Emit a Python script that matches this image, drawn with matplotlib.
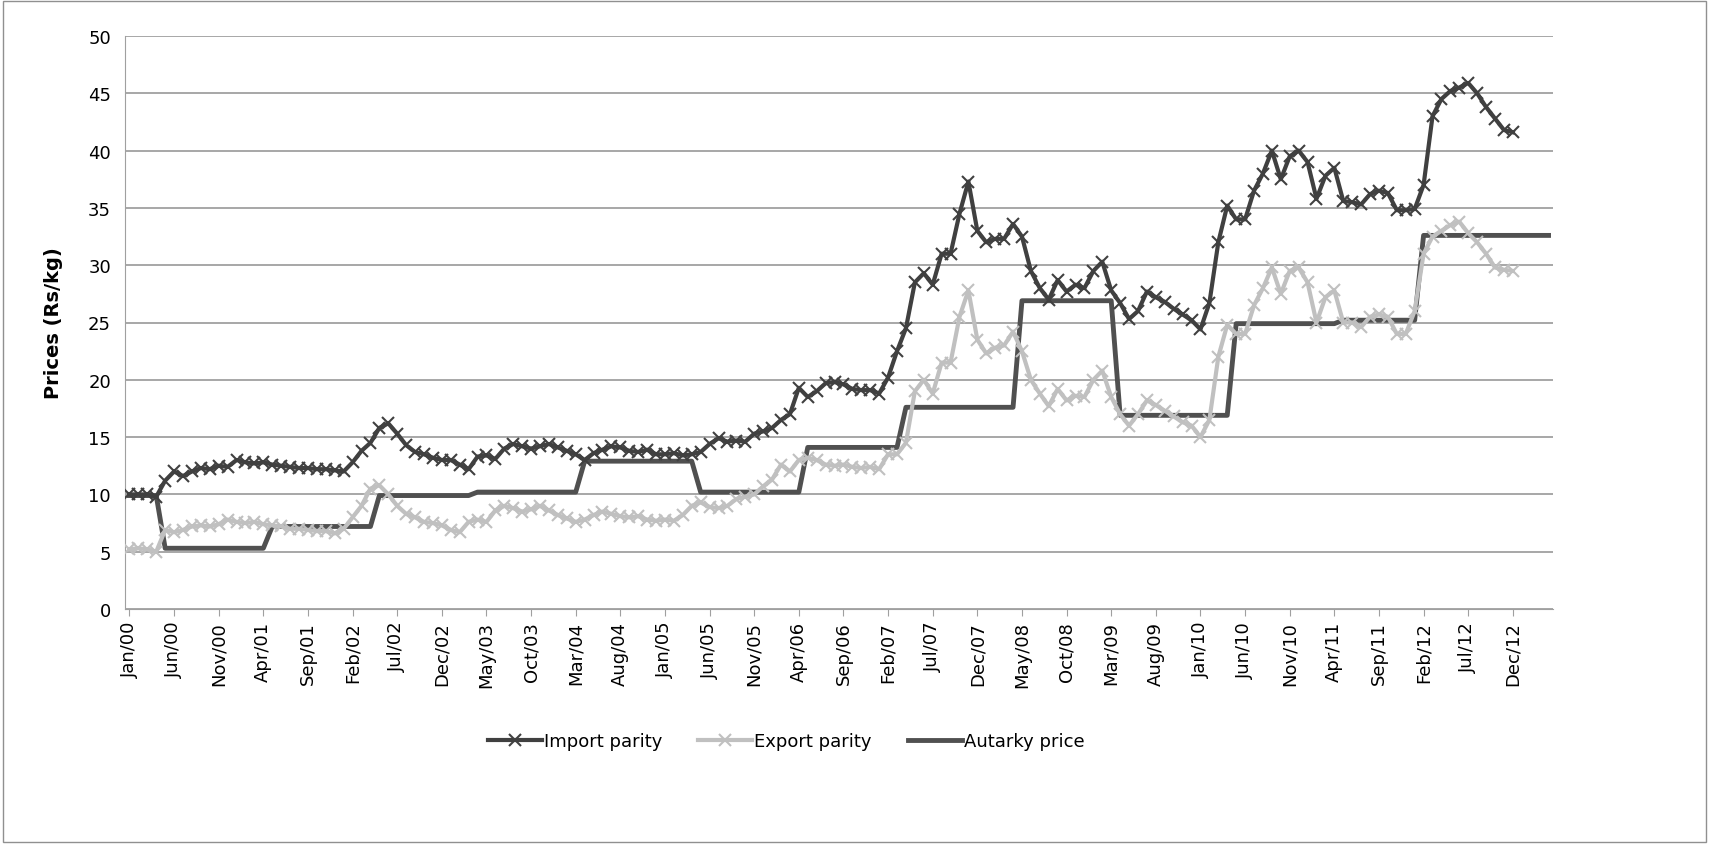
import numpy as np
import pandas as pd
import matplotlib
matplotlib.use('Agg')
import matplotlib.pyplot as plt

# monthly data, Jan/00 .. Apr/13 (parities end Dec/12)
months = pd.date_range('2000-01-01', '2013-04-01', freq='MS')
labels = [m.strftime('%b/%y') for m in months]

import_parity = [
    10, 10, 10, 9.8, 11.2, 12, 11.6, 12, 12.3, 12.2, 12.5, 12.4,
    13, 12.8, 12.7, 12.8, 12.6, 12.5, 12.4, 12.3, 12.3, 12.2, 12.2, 12.1,
    12.0, 12.8, 13.8, 14.5, 15.8, 16.2, 15.3, 14.3, 13.7, 13.5, 13.2, 13.0,
    13.0, 12.6, 12.2, 13.3, 13.4, 13.1, 14.0, 14.4, 14.2, 14.0, 14.2, 14.4,
    14.1, 13.8, 13.5, 13.0, 13.6, 13.9, 14.2, 14.1, 13.8, 13.7, 13.9, 13.5,
    13.5, 13.6, 13.4, 13.5, 13.7, 14.4, 14.9, 14.6, 14.7, 14.6, 15.3, 15.5,
    15.8, 16.5, 17.0, 19.3, 18.5, 19.0, 19.7, 19.8, 19.6, 19.2, 19.1, 19.1,
    18.8, 20.2, 22.5, 24.5, 28.5, 29.3, 28.3, 31.0, 31.0, 34.5, 37.3, 33.0,
    32.0, 32.3, 32.3, 33.6, 32.5, 29.5, 28.0, 27.0, 28.7, 27.7, 28.3, 28.0,
    29.5, 30.3, 27.8, 26.7, 25.3, 26.0, 27.7, 27.2, 26.8, 26.2, 25.7, 25.2,
    24.4, 26.7, 32.0, 35.2, 34.0, 34.0, 36.5, 38.0, 40.0, 37.5, 39.5, 40.0,
    39.0, 35.8, 37.8, 38.5, 35.6, 35.5, 35.3, 36.2, 36.5, 36.3, 34.8, 34.8,
    34.9, 37.0, 43.0, 44.5, 45.2, 45.5, 45.9, 45.0, 43.8, 42.8, 41.8, 41.6,
]
export_parity = [
    5.2, 5.3, 5.2, 5.0, 6.9, 6.7, 6.9, 7.2, 7.3, 7.2, 7.4, 7.8,
    7.6, 7.5, 7.6, 7.4, 7.3, 7.2, 7.0, 7.0, 6.9, 6.8, 6.8, 6.6,
    7.0, 8.0, 9.0, 10.5, 10.8, 10.0, 9.0, 8.3, 8.0, 7.6, 7.5, 7.3,
    6.9, 6.7, 7.6, 7.8, 7.6, 8.6, 9.0, 8.8, 8.5, 8.7, 9.0, 8.6,
    8.2, 7.9, 7.6, 7.8, 8.2, 8.5, 8.3, 8.1, 8.0, 8.1, 7.8, 7.7,
    7.8, 7.7, 8.2, 9.0, 9.3, 8.9, 8.8, 9.0, 9.6, 9.8, 10.0, 10.7,
    11.3, 12.6, 12.0, 13.0, 13.2, 13.0, 12.6, 12.5, 12.6, 12.4, 12.3, 12.4,
    12.2, 13.5, 13.5, 14.5, 19.0, 20.0, 18.8, 21.5, 21.5, 25.5, 27.8, 23.5,
    22.3, 22.8, 23.0, 24.2, 22.5, 20.0, 18.8, 17.7, 19.2, 18.2, 18.6, 18.5,
    20.0, 20.8, 18.5, 17.0, 16.0, 17.0, 18.2, 17.8, 17.3, 16.8, 16.3, 16.0,
    15.0, 16.5, 22.0, 24.8, 24.0, 24.0, 26.5, 28.0, 29.8, 27.5, 29.5, 29.8,
    28.5, 25.0, 27.2, 27.8, 25.0, 25.0, 24.6, 25.5, 25.7, 25.5, 24.0, 24.0,
    26.0, 31.0, 32.5, 33.0, 33.5, 33.8, 32.8, 32.0, 31.0, 29.8, 29.6, 29.5,
]
autarky = (
    [9.9] * 4 + [5.3] * 8 +
    [5.3] * 4 + [7.2] * 8 +
    [7.2] * 4 + [9.9] * 8 +
    [9.9] * 3 + [10.2] * 9 +
    [10.2] * 3 + [12.9] * 9 +
    [12.9] * 4 + [10.2] * 8 +
    [10.2] * 4 + [14.1] * 8 +
    [14.1] * 3 + [17.6] * 9 +
    [17.6] * 4 + [26.9] * 8 +
    [26.9] * 3 + [16.9] * 9 +
    [16.9] * 4 + [24.9] * 8 +
    [24.9] * 4 + [25.2] * 8 +
    [25.2] * 1 + [32.6] * 11 +
    [32.6] * 4
)

x = np.arange(len(months))
imp = import_parity + [np.nan] * (len(x) - len(import_parity))
exp_ = export_parity + [np.nan] * (len(x) - len(export_parity))

fig = plt.figure(figsize=(17.09, 8.45), dpi=100)
ax = fig.add_axes([125 / 1709, 1 - 610 / 845, (1553 - 125) / 1709, (610 - 37) / 845])

ax.plot(x, exp_, color='#c0c0c0', lw=3, marker='x', ms=8, mew=1.5, label='Export parity', zorder=3)
ax.plot(x, imp, color='#404040', lw=3, marker='x', ms=8, mew=1.5, label='Import parity', zorder=4)
ax.plot(x, autarky, color='#505050', lw=3.5, label='Autarky price', zorder=2)

ax.set_xlim(-0.5, len(x) - 0.5)
ax.set_ylim(0, 50)
ax.set_yticks(range(0, 51, 5))
ax.yaxis.grid(True, color='#a0a0a0', lw=1.3)
ax.set_axisbelow(True)
ax.set_xticks(x[::5])
ax.set_xticklabels(labels[::5], rotation=90, fontsize=13)
ax.tick_params(axis='y', labelsize=13, length=0, pad=10)
ax.tick_params(axis='x', length=5, color='#a0a0a0')
for s in ['top', 'right']:
    ax.spines[s].set_visible(False)
ax.spines['left'].set_color('#a0a0a0')
ax.spines['bottom'].set_color('#a0a0a0')
ax.set_ylabel('Prices (Rs/kg)', fontsize=14, fontweight='bold', labelpad=18)

h, l = ax.get_legend_handles_labels()
order = [1, 0, 2]
fig.legend([h[i] for i in order], [l[i] for i in order], loc='center',
           bbox_to_anchor=(0.46, 1 - 742 / 845), ncol=3, frameon=False,
           fontsize=13, handlelength=3, handletextpad=0.1, columnspacing=2)

fig.add_artist(plt.Rectangle((0.002, 0.002), 0.996, 0.996, transform=fig.transFigure,
                             fill=False, edgecolor='#909090', lw=1))
fig.savefig('out.png', dpi=100)
